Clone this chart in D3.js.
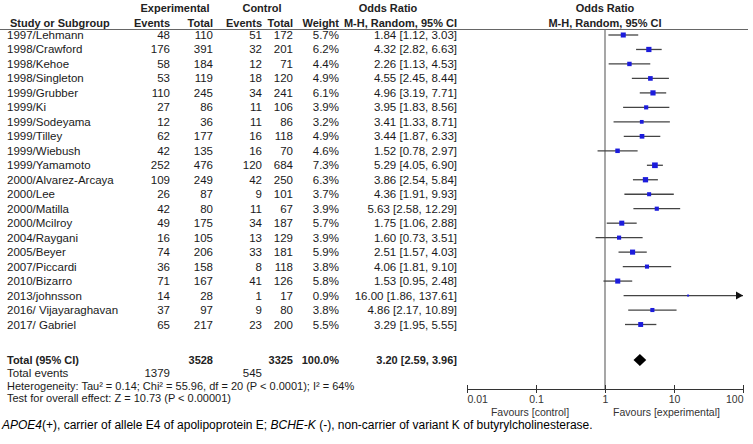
<!DOCTYPE html>
<html><head><meta charset="utf-8">
<script src="https://cdn.jsdelivr.net/npm/d3@7"></script>
<style>body{margin:0;background:#fff}svg{display:block}text{font-family:"Liberation Sans",Arial,sans-serif;font-size:11.5px;fill:#1a1a1a}</style>
</head><body><svg id="c" width="753" height="444"></svg>
<script>
const studies=["1997/Lehmann","1998/Crawford","1998/Kehoe","1998/Singleton","1999/Grubber","1999/Ki","1999/Sodeyama","1999/Tilley","1999/Wiebush","1999/Yamamoto","2000/Alvarez-Arcaya","2000/Lee","2000/Matilla","2000/Mcilroy","2004/Raygani","2005/Beyer","2007/Piccardi","2010/Bizarro","2013/johnsson","2016/ Vijayaraghavan","2017/ Gabriel"];
const expEvents=[48,176,58,53,110,27,12,62,42,252,109,26,42,49,16,74,36,71,14,37,65];
const expTotal=[110,391,184,119,245,86,36,177,135,476,249,87,80,175,105,206,158,167,28,97,217];
const ctlEvents=[51,32,12,18,34,11,11,16,16,120,42,9,11,34,13,33,8,41,1,9,23];
const ctlTotal=[172,201,71,120,241,106,86,118,70,684,250,101,67,187,129,181,118,126,17,80,200];
const weights=[5.7,6.2,4.4,4.9,6.1,3.9,3.2,4.9,4.6,7.3,6.3,3.7,3.9,5.7,3.9,5.9,3.8,5.8,0.9,3.8,5.5];
const orVal=[1.84,4.32,2.26,4.55,4.96,3.95,3.41,3.44,1.52,5.29,3.86,4.36,5.63,1.75,1.60,2.51,4.06,1.53,16.00,4.86,3.29];
const ciLow=[1.12,2.82,1.13,2.45,3.19,1.83,1.33,1.87,0.78,4.05,2.54,1.91,2.58,1.06,0.73,1.57,1.81,0.95,1.86,2.17,1.95];
const ciHigh=[3.03,6.63,4.53,8.44,7.71,8.56,8.71,6.33,2.97,6.90,5.84,9.93,12.29,2.88,3.51,4.03,9.10,2.48,137.61,10.89,5.55];
const total={exp:3528,ctl:3325,weight:"100.0%",or:3.20,lo:2.59,hi:3.96,expEv:1379,ctlEv:545};
const axisTicks=[0.01,0.1,1,10,100];
const axisTickLabels=["0.01","0.1","1","10","100"];

const svg=d3.select("#c");
const x=d3.scaleLog().domain([0.01,100]).range([467,743]);
const y=d3.scaleLinear().domain([0,20]).range([35,324.5]);
const fmt=d3.format(".2f");
const ciText=(o,l,h)=>`${fmt(o)} [${fmt(l)}, ${fmt(h)}]`;

// headers
const hb=(t,xx,yy,anchor)=>svg.append("text").attr("x",xx).attr("y",yy).attr("text-anchor",anchor).attr("font-weight","bold").style("font-size","11px").style("fill","#222").text(t);
hb("Experimental",175,11.5,"middle");
hb("Control",262,11.5,"middle");
hb("Odds Ratio",388,11.5,"middle");
hb("Odds Ratio",605,11.5,"middle");
hb("Study or Subgroup",10,26.5,"start");
hb("Events",170,26.5,"end");
hb("Total",213,26.5,"end");
hb("Events",262,26.5,"end");
hb("Total",293,26.5,"end");
hb("Weight",339,26.5,"end");
hb("M-H, Random, 95% CI",457,26.5,"end");
hb("M-H, Random, 95% CI",605,26.5,"middle");
svg.append("line").attr("x1",0).attr("x2",748).attr("y1",29.5).attr("y2",29.5).attr("stroke","#666").attr("stroke-width",1.2);

// vertical line of no effect
svg.append("line").attr("x1",x(1)).attr("x2",x(1)).attr("y1",29.5).attr("y2",389).attr("stroke","#777").attr("stroke-width",1.3);

// rows
const rows=svg.append("g");
studies.forEach((s,i)=>{
  const yy=y(i);
  const g=rows.append("g");
  g.append("text").attr("x",7).attr("y",yy+4).text(s);
  g.append("text").attr("x",170).attr("y",yy+4).attr("text-anchor","end").text(expEvents[i]);
  g.append("text").attr("x",213).attr("y",yy+4).attr("text-anchor","end").text(expTotal[i]);
  g.append("text").attr("x",262).attr("y",yy+4).attr("text-anchor","end").text(ctlEvents[i]);
  g.append("text").attr("x",293).attr("y",yy+4).attr("text-anchor","end").text(ctlTotal[i]);
  g.append("text").attr("x",339).attr("y",yy+4).attr("text-anchor","end").text(weights[i].toFixed(1)+"%");
  g.append("text").attr("x",457).attr("y",yy+4).attr("text-anchor","end").text(ciText(orVal[i],ciLow[i],ciHigh[i]));
  const lo=Math.max(ciLow[i],0.01), hi=Math.min(ciHigh[i],100);
  g.append("line").attr("x1",x(lo)).attr("x2",x(hi)).attr("y1",yy).attr("y2",yy).attr("stroke","#444").attr("stroke-width",1.3);
  if(ciHigh[i]>100){
    g.append("path").attr("d",`M${x(100)},${yy} l-7,-4 l0,8 z`).attr("fill","#111");
  }
  const side=Math.sqrt(weights[i])*2.1;
  g.append("rect").attr("x",x(orVal[i])-side/2).attr("y",yy-side/2).attr("width",side).attr("height",side).attr("fill","#1c1cdc");
});

// total row
const ty=360;
hb("Total (95% CI)",7,ty+4,"start");
hb(total.exp,213,ty+4,"end");
hb(total.ctl,293,ty+4,"end");
hb(total.weight,339,ty+4,"end");
hb(ciText(total.or,total.lo,total.hi),457,ty+4,"end");
svg.append("path").attr("d",`M${x(total.lo)},${ty} L${x(total.or)},${ty-6} L${x(total.hi)},${ty} L${x(total.or)},${ty+6} Z`).attr("fill","#000");

const tt=(t,xx,yy,anchor)=>svg.append("text").attr("x",xx).attr("y",yy).attr("text-anchor",anchor||"start").text(t);
tt("Total events",7,377);
tt(total.expEv,170,377,"end");
tt(total.ctlEv,262,377,"end");
tt("Heterogeneity: Tau\u00b2 = 0.14; Chi\u00b2 = 55.96, df = 20 (P < 0.0001); I\u00b2 = 64%",7,389.5).style("font-size","11px");
tt("Test for overall effect: Z = 10.73 (P < 0.00001)",7,402).style("font-size","11px");

// axis
const ax=d3.axisBottom(x).tickValues(axisTicks).tickFormat((d,i)=>axisTickLabels[i]).tickSize(4).tickSizeOuter(0);
const axg=svg.append("g").attr("transform","translate(0,389)").call(ax);
axg.select(".domain").attr("stroke","#333");
axg.selectAll(".tick line").attr("stroke","#333").attr("y1",-4).attr("y2",4);
axg.selectAll(".tick text").attr("dy",0).attr("y",14).style("font-family","Liberation Sans, Arial, sans-serif").style("font-size","10.5px").style("fill","#333")
  .attr("text-anchor",(d,i)=>i===0?"start":(i===axisTicks.length-1?"end":"middle"));
tt("Favours [control]",530,415.5,"middle").style("fill","#333").style("font-size","10.5px");
tt("Favours [experimental]",666.5,415.5,"middle").style("fill","#333").style("font-size","10.5px");

// footnote
const fn=svg.append("text").attr("x",2).attr("y",428.5).style("fill","#000").style("font-size","12px");
fn.append("tspan").attr("font-style","italic").text("APOE4");
fn.append("tspan").text("(+), carrier of allele E4 of apolipoprotein E; ");
fn.append("tspan").attr("font-style","italic").text("BCHE-K");
fn.append("tspan").text(" (-), non-carrier of variant K of butyrylcholinesterase.");
</script></body></html>
